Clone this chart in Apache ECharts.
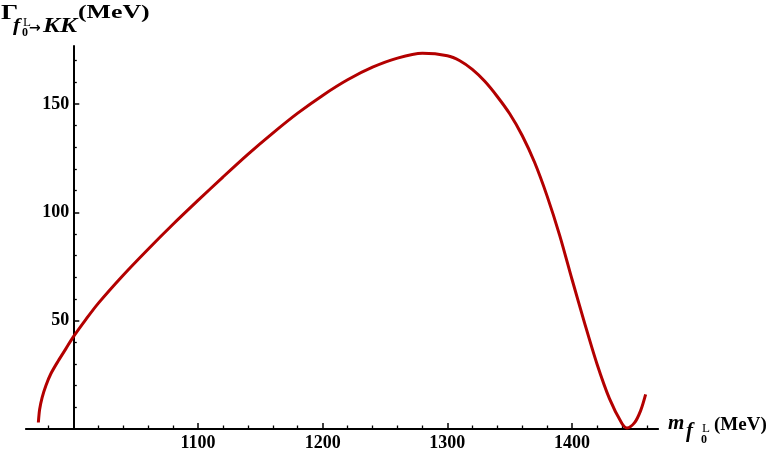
<!DOCTYPE html>
<html>
<head>
<meta charset="utf-8">
<script src="https://cdn.jsdelivr.net/npm/echarts@6/dist/echarts.min.js"></script>
<style>
  html, body { margin: 0; padding: 0; background: #fff; }
  #chart { width: 770px; height: 452px; }
</style>
</head>
<body>
<div id="chart"></div>
<script>
// m_f0 (MeV) and Gamma(f0 -> KK) (MeV)
const massMeV = [972, 973, 975, 978, 982, 988, 994, 1000, 1010, 1020, 1040, 1060, 1080,
  1100, 1120, 1140, 1160, 1180, 1200, 1220, 1240, 1260, 1280, 1300, 1310, 1320, 1330,
  1340, 1350, 1360, 1370, 1380, 1390, 1400, 1410, 1420, 1430, 1440, 1444, 1450, 1455, 1459];
const widthMeV = [3, 9, 14.5, 20, 25.5, 31.5, 37, 42.5, 50.5, 58, 71, 83, 94.5,
  105.5, 116.3, 126.8, 136.6, 145.8, 154, 161.2, 167, 171.2, 173.4, 172.3, 170, 166, 160.5,
  153.5, 145.5, 135.5, 123, 107.5, 89.5, 69, 49, 30, 14, 2.5, 0.5, 2.8, 8.5, 16];

const xMajorTicks = [1100, 1200, 1300, 1400];
const yMajorTicks = [50, 100, 150];

const xMin = 962, xMax = 1469;
const yMin = 0, yMax = 176.8;

const xMinorTicks = [];
for (let v = 980; v <= 1460; v += 20) if (v % 100 !== 0) xMinorTicks.push(v);
const yMinorTicks = [];
for (let v = 10; v <= 170; v += 10) if (v % 50 !== 0) yMinorTicks.push(v);

const gridLeft = 25.9, gridRight = 111.9, gridTop = 46, gridBottom = 23;
const gridWidth = 770 - gridLeft - gridRight;
// y axis sits at m = 1000
const yAxisShift = -(1000 - xMin) / (xMax - xMin) * gridWidth;

const serif = "Liberation Serif";
const axisColor = "#000";

const labelStyle = {
  fontFamily: serif,
  fontWeight: "bold",
  fontSize: 18,
  color: "#000",
  formatter: (v) => String(v),
};

// text piece placed by its left edge and baseline
function txt(text, x, baseline, size, opts) {
  opts = opts || {};
  return {
    type: "text",
    x: x,
    y: baseline - 0.24 * size,
    scaleX: opts.sx || 1,
    style: {
      text: text,
      align: "left",
      verticalAlign: "middle",
      fontFamily: opts.font || serif,
      fontSize: size,
      fontWeight: opts.weight || "bold",
      fontStyle: opts.italic ? "italic" : "normal",
      fill: "#000",
    },
  };
}

const chart = echarts.init(document.getElementById("chart"));

chart.setOption({
  animation: false,
  grid: {
    left: gridLeft,
    right: gridRight,
    top: gridTop,
    bottom: gridBottom,
    outerBoundsMode: "none",
  },
  xAxis: [
    {
      type: "value",
      position: "bottom",
      min: xMin,
      max: xMax,
      axisLine: { lineStyle: { color: axisColor, width: 2 } },
      axisTick: {
        show: true,
        inside: true,
        length: 6,
        customValues: xMajorTicks,
        lineStyle: { color: axisColor, width: 1.5 },
      },
      axisLabel: { customValues: xMajorTicks, margin: 5, ...labelStyle },
      splitLine: { show: false },
    },
    {
      type: "value",
      position: "bottom",
      min: xMin,
      max: xMax,
      axisLine: { show: false },
      axisTick: {
        show: true,
        inside: true,
        length: 3.5,
        customValues: xMinorTicks,
        lineStyle: { color: axisColor, width: 1.3 },
      },
      axisLabel: { show: false },
      splitLine: { show: false },
    },
  ],
  yAxis: [
    {
      type: "value",
      position: "left",
      min: yMin,
      max: yMax,
      offset: yAxisShift,
      axisLine: { show: true, onZero: false, lineStyle: { color: axisColor, width: 2 } },
      axisTick: {
        show: true,
        inside: true,
        length: 6,
        customValues: yMajorTicks,
        lineStyle: { color: axisColor, width: 1.5 },
      },
      axisLabel: { customValues: yMajorTicks, margin: 4, ...labelStyle },
      splitLine: { show: false },
    },
    {
      type: "value",
      position: "left",
      min: yMin,
      max: yMax,
      offset: yAxisShift,
      axisLine: { show: false, onZero: false },
      axisTick: {
        show: true,
        inside: true,
        length: 3.5,
        customValues: yMinorTicks,
        lineStyle: { color: axisColor, width: 1.3 },
      },
      axisLabel: { show: false },
      splitLine: { show: false },
    },
  ],
  series: [
    {
      type: "line",
      xAxisIndex: 0,
      yAxisIndex: 0,
      smooth: 0.3,
      showSymbol: false,
      clip: false,
      lineStyle: { color: "#b30000", width: 3 },
      data: massMeV.map((m, i) => [m, widthMeV[i]]),
    },
  ],
  graphic: [
    // y axis name: Gamma_{f0^L -> KK} (MeV)
    txt("Γ", 1, 19, 20, { sx: 1.35 }),
    txt("f", 13, 31, 18, { italic: true, sx: 1.2 }),
    txt("0", 22, 36, 12),
    txt("L", 23, 26, 13, { weight: "normal" }),
    txt("→", 29, 32, 14, { font: "DejaVu Sans" }),
    txt("KK", 43, 32, 21, { italic: true, sx: 1.22 }),
    txt("(MeV)", 78, 18, 19, { sx: 1.36 }),
    // x axis name: m_{f0^L} (MeV)
    txt("m", 668, 429, 21, { italic: true }),
    txt("f", 686, 437, 21, { italic: true }),
    txt("0", 701, 443, 12),
    txt("L", 702, 432, 13, { weight: "normal" }),
    txt("(MeV)", 714, 430, 19),
  ],
});
</script>
</body>
</html>
